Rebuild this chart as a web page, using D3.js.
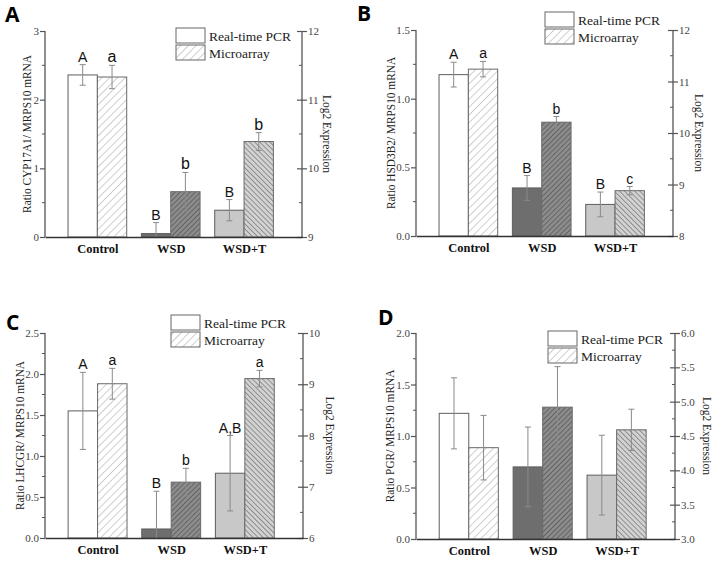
<!DOCTYPE html>
<html><head><meta charset="utf-8">
<script src="https://cdn.jsdelivr.net/npm/d3@7"></script>
<style>body{margin:0;background:#fff} svg{display:block}</style>
</head><body>
<svg id="chart" width="714" height="561"></svg>
<script>
// ---------- data ----------
const groups = ["Control", "WSD", "WSD+T"];
const seriesNames = ["Real-time PCR", "Microarray"];

// Panel A: CYP17A1
const pcrA = [2.36, 0.05, 0.39];
const pcrErrA = [0.15, 0.16, 0.155];
const microA = [11.33, 9.66, 10.39];
const microErrA = [0.17, 0.28, 0.13];
const lettersPcrA = ["A", "B", "B"];
const lettersMicroA = ["a", "b", "b"];
const leftTicksA = [0, 1, 2, 3];
const rightTicksA = [9, 10, 11, 12];

// Panel B: HSD3B2
const pcrB = [1.175, 0.35, 0.23];
const pcrErrB = [0.09, 0.09, 0.09];
const microB = [11.24, 10.21, 8.88];
const microErrB = [0.15, 0.11, 0.08];
const lettersPcrB = ["A", "B", "B"];
const lettersMicroB = ["a", "b", "c"];
const leftTicksB = [0.0, 0.5, 1.0, 1.5];
const rightTicksB = [8, 9, 10, 11, 12];

// Panel C: LHCGR
const pcrC = [1.55, 0.11, 0.79];
const pcrErrC = [0.47, 0.46, 0.46];
const microC = [9.01, 7.09, 9.11];
const microErrC = [0.30, 0.27, 0.16];
const lettersPcrC = ["A", "B", "A,B"];
const lettersMicroC = ["a", "b", "a"];
const leftTicksC = [0.0, 0.5, 1.0, 1.5, 2.0, 2.5];
const rightTicksC = [6, 7, 8, 9, 10];

// Panel D: PGR
const pcrD = [1.22, 0.70, 0.62];
const pcrErrD = [0.345, 0.387, 0.387];
const microD = [4.33, 4.92, 4.59];
const microErrD = [0.47, 0.59, 0.30];
const lettersPcrD = ["", "", ""];
const lettersMicroD = ["", "", ""];
const leftTicksD = [0.0, 0.5, 1.0, 1.5, 2.0];
const rightTicksD = [3.0, 3.5, 4.0, 4.5, 5.0, 5.5, 6.0];

// ---------- panel options built from the arrays ----------
const panels = [
  {id: "A", ylab: "Ratio CYP17A1/ MRPS10 mRNA", pcr: pcrA, pcrErr: pcrErrA, micro: microA, microErr: microErrA,
   lp: lettersPcrA, lm: lettersMicroA, lt: leftTicksA, rt: rightTicksA, lfmt: "d", rfmt: "d", lminor: 0.5, rminor: 0.5,
   g: {left: 45, right: 302, top: 31, bottom: 237, letX: 5, letY: 22, ylabX: 26, y2labX: 327, legX: 176, legY: 28}},
  {id: "B", ylab: "Ratio HSD3B2/ MRPS10 mRNA", pcr: pcrB, pcrErr: pcrErrB, micro: microB, microErr: microErrB,
   lp: lettersPcrB, lm: lettersMicroB, lt: leftTicksB, rt: rightTicksB, lfmt: ".1f", rfmt: "d", lminor: 0.25, rminor: 0.5,
   g: {left: 416, right: 673, top: 30, bottom: 236, letX: 357, letY: 21, ylabX: 390, y2labX: 699, legX: 545, legY: 12}},
  {id: "C", ylab: "Ratio LHCGR/ MRPS10 mRNA", pcr: pcrC, pcrErr: pcrErrC, micro: microC, microErr: microErrC,
   lp: lettersPcrC, lm: lettersMicroC, lt: leftTicksC, rt: rightTicksC, lfmt: ".1f", rfmt: "d", lminor: 0.25, rminor: 0.5,
   g: {left: 45, right: 303, top: 333, bottom: 538, letX: 6, letY: 330, ylabX: 19, y2labX: 330, legX: 171, legY: 315}},
  {id: "D", ylab: "Ratio PGR/ MRPS10 mRNA", pcr: pcrD, pcrErr: pcrErrD, micro: microD, microErr: microErrD,
   lp: lettersPcrD, lm: lettersMicroD, lt: leftTicksD, rt: rightTicksD, lfmt: ".1f", rfmt: ".1f", lminor: 0.25, rminor: 0.25,
   g: {left: 416, right: 675, top: 333, bottom: 539, letX: 378, letY: 325, ylabX: 389, y2labX: 707, legX: 548, legY: 331}}
];

const pcrFill = ["#ffffff", "#6e6e6e", "#c8c8c8"];
const SERIF = "'Liberation Serif','Times New Roman',serif";
const SANS = "'Liberation Sans',Arial,sans-serif";
const AX = "#555";

const svg = d3.select("#chart");
const defs = svg.append("defs");
function hatch(id, bg, line, size, angle, w) {
  const p = defs.append("pattern").attr("id", id).attr("patternUnits", "userSpaceOnUse")
    .attr("width", size).attr("height", size).attr("patternTransform", `rotate(${angle})`);
  p.append("rect").attr("width", size).attr("height", size).attr("fill", bg);
  p.append("line").attr("x1", 0).attr("y1", 0).attr("x2", 0).attr("y2", size)
    .attr("stroke", line).attr("stroke-width", w);
}
hatch("h0", "#ffffff", "#a9a9a9", 5.5, 45, 1.1);
hatch("h1", "#8c8c8c", "#4a4a4a", 3.6, 45, 1.2);
hatch("h2", "#d2d2d2", "#5a5a5a", 3.6, -45, 1.1);
const microFill = ["url(#h0)", "url(#h1)", "url(#h2)"];

function condense(sel, k) {
  sel.each(function () {
    const L = this.getComputedTextLength();
    d3.select(this).attr("textLength", L * k).attr("lengthAdjust", "spacingAndGlyphs");
  });
}

panels.forEach(P => {
  const g = P.g;
  const root = svg.append("g");
  const x = d3.scaleLinear().domain([-0.714, 2.79]).range([g.left, g.right]);
  const yL = d3.scaleLinear().domain(d3.extent(P.lt)).range([g.bottom, g.top]);
  const yR = d3.scaleLinear().domain(d3.extent(P.rt)).range([g.bottom, g.top]);
  const bw = x(0.4) - x(0);

  // bars
  groups.forEach((grp, i) => {
    root.append("rect").attr("x", x(i - 0.4)).attr("y", yL(P.pcr[i]))
      .attr("width", bw).attr("height", yL(0) - yL(P.pcr[i]))
      .attr("fill", pcrFill[i]).attr("stroke", "#5e5e5e").attr("stroke-width", 1);
    root.append("rect").attr("x", x(i)).attr("y", yR(P.micro[i]))
      .attr("width", bw).attr("height", yR(yR.domain()[0]) - yR(P.micro[i]))
      .attr("fill", microFill[i]).attr("stroke", "#6a6a6a").attr("stroke-width", 1);
  });

  // error bars + letters
  function errbar(cx, y, v, e, lab, fs) {
    const top = y(v + e);
    const lowV = Math.max(y.domain()[0], v - e);
    const bot = y(lowV);
    root.append("line").attr("x1", cx).attr("x2", cx).attr("y1", top).attr("y2", bot)
      .attr("stroke", "#8a8a8a").attr("stroke-width", 1);
    root.append("line").attr("x1", cx - 3).attr("x2", cx + 3).attr("y1", top).attr("y2", top)
      .attr("stroke", "#8a8a8a").attr("stroke-width", 1);
    if (v - e > y.domain()[0])
      root.append("line").attr("x1", cx - 3).attr("x2", cx + 3).attr("y1", bot).attr("y2", bot)
        .attr("stroke", "#8a8a8a").attr("stroke-width", 1);
    if (lab) root.append("text").attr("x", cx).attr("y", top - 3).attr("text-anchor", "middle")
      .attr("font-family", SANS).attr("font-size", fs).attr("fill", "#111").text(lab);
  }
  groups.forEach((grp, i) => {
    errbar(x(i - 0.2), yL, P.pcr[i], P.pcrErr[i], P.lp[i], 14);
    errbar(x(i + 0.2), yR, P.micro[i], P.microErr[i], P.lm[i], P.id === "A" ? 16 : 14);
  });

  // left axis
  const lAxis = d3.axisLeft(yL).tickValues(P.lt).tickSize(5).tickPadding(1).tickFormat(d3.format(P.lfmt));
  const la = root.append("g").attr("transform", `translate(${g.left},0)`).call(lAxis);
  const lminor = d3.range(yL.domain()[0], yL.domain()[1] + 1e-9, P.lminor).filter(v => !P.lt.some(t => Math.abs(t - v) < 1e-9));
  la.selectAll(".mn").data(lminor).enter().append("line").attr("class", "mn")
    .attr("x1", -3).attr("x2", 0).attr("y1", d => yL(d)).attr("y2", d => yL(d)).attr("stroke", AX);
  // right axis
  const rAxis = d3.axisRight(yR).tickValues(P.rt).tickSize(5).tickPadding(1).tickFormat(d3.format(P.rfmt));
  const ra = root.append("g").attr("transform", `translate(${g.right},0)`).call(rAxis);
  ra.selectAll(".tick line").attr("x1", -5);
  const rminor = d3.range(yR.domain()[0], yR.domain()[1] + 1e-9, P.rminor).filter(v => !P.rt.some(t => Math.abs(t - v) < 1e-9));
  ra.selectAll(".mn").data(rminor).enter().append("line").attr("class", "mn")
    .attr("x1", -3).attr("x2", 0).attr("y1", d => yR(d)).attr("y2", d => yR(d)).attr("stroke", AX);
  [la, ra].forEach(a => {
    a.select(".domain").attr("stroke", AX).attr("stroke-width", 1.3);
    a.selectAll(".tick line").attr("stroke", AX).attr("stroke-width", 1.2);
    a.selectAll("text").attr("font-family", SERIF).attr("font-size", 11).attr("fill", "#444");
  });
  la.select(".domain").attr("d", `M0,${g.top}V${g.bottom}`);
  ra.select(".domain").attr("d", `M0,${g.top}V${g.bottom}`);

  // x baseline + category labels
  const xa = root.append("g").attr("transform", `translate(0,${g.bottom})`)
    .call(d3.axisBottom(x).tickValues([0, 1, 2]).tickSize(0).tickPadding(6.5).tickFormat(i => groups[i]));
  xa.select(".domain").attr("stroke", "#333").attr("stroke-width", 1.5);
  xa.selectAll("text").attr("font-family", SERIF).attr("font-weight", "bold").attr("font-size", 13.5).attr("fill", "#111");
  condense(xa.selectAll("text"), 0.92);

  // axis titles
  const t1 = root.append("text").attr("transform", `translate(${g.ylabX},${(g.top + g.bottom) / 2}) rotate(-90)`)
    .attr("text-anchor", "middle").attr("dominant-baseline", "central")
    .attr("font-family", SERIF).attr("font-size", 13.5).attr("fill", "#222").text(P.ylab);
  const t2 = root.append("text").attr("transform", `translate(${g.y2labX},${(g.top + g.bottom) / 2}) rotate(90)`)
    .attr("text-anchor", "middle").attr("dominant-baseline", "central")
    .attr("font-family", SERIF).attr("font-size", 13.5).attr("fill", "#222").text("Log2 Expression");
  condense(t1, 0.84);
  condense(t2, 0.85);

  // panel letter
  root.append("text").attr("x", g.letX).attr("y", g.letY).attr("font-family", "'Open Sans',Arial,sans-serif")
    .attr("font-weight", "bold").attr("font-size", 21).attr("fill", "#000").text(P.id);

  // legend
  seriesNames.forEach((s, k) => {
    const ly = g.legY + k * 17;
    root.append("rect").attr("x", g.legX).attr("y", ly).attr("width", 29).attr("height", 15)
      .attr("fill", k === 0 ? "#fff" : "url(#h0)").attr("stroke", "#666").attr("stroke-width", 1);
    root.append("text").attr("x", g.legX + 33).attr("y", ly + 12.5)
      .attr("font-family", SERIF).attr("font-size", 13.5).attr("fill", "#222").text(s);
  });
});
</script>
</body></html>
